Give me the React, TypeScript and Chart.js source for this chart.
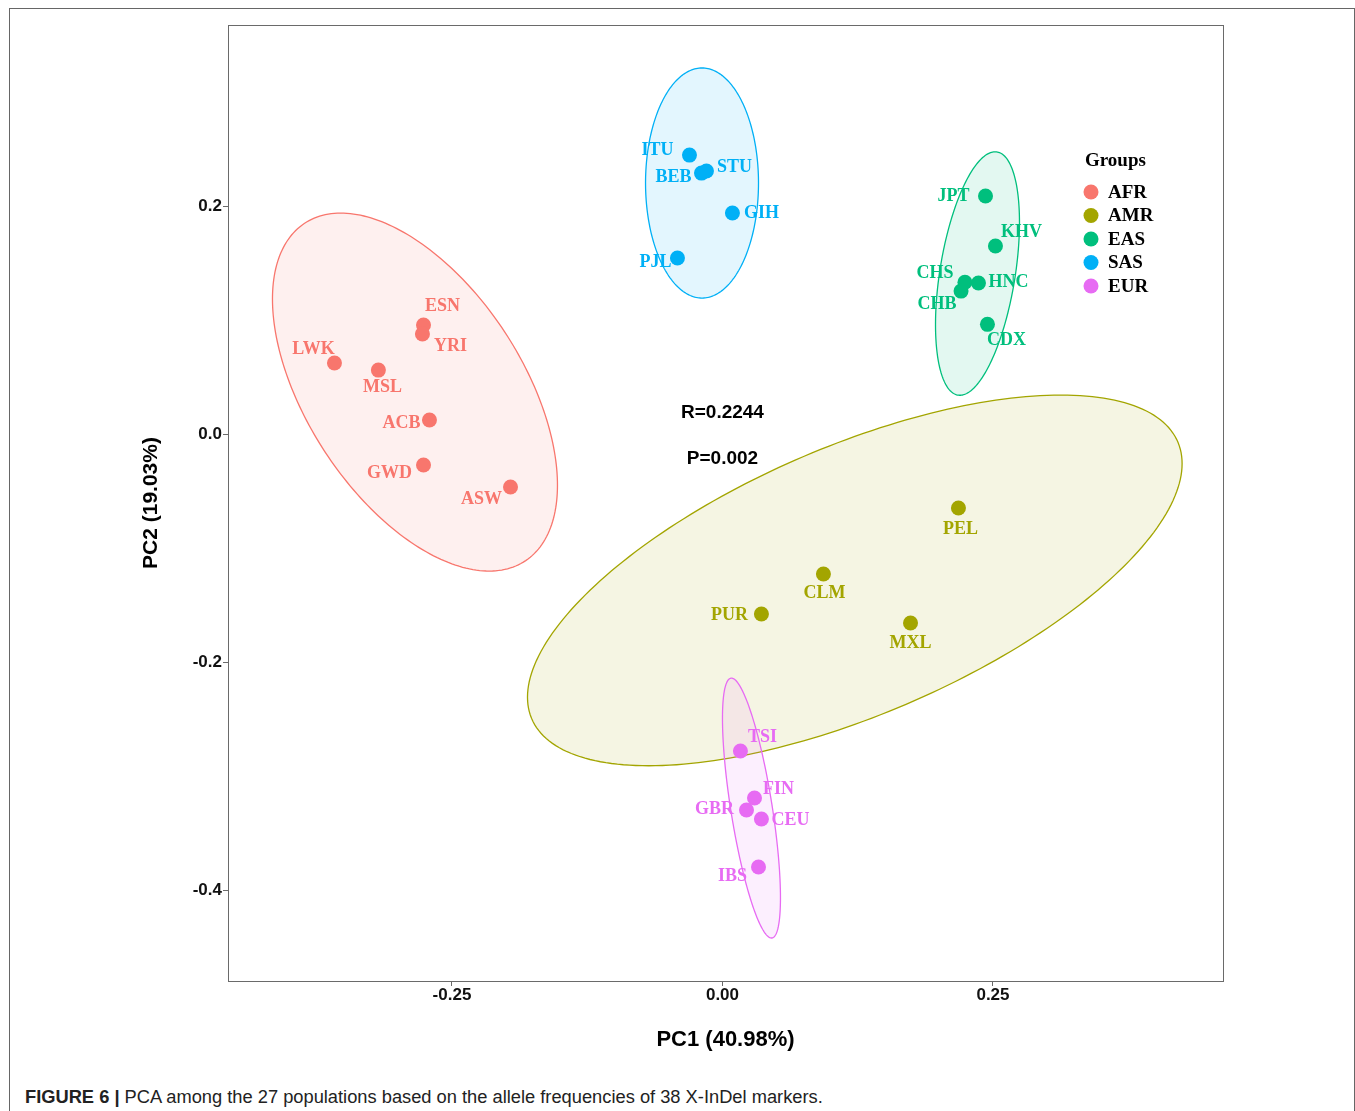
import React, { useEffect, useRef } from 'react';
import { Chart, registerables } from 'chart.js';

Chart.register(...registerables);

// ---- Groups ----
const groups = ['AFR', 'AMR', 'EAS', 'SAS', 'EUR'];
const groupColors = ['#F8766D', '#A3A500', '#00BF7D', '#00B0F6', '#E76BF3'];

// ---- Populations (PC1, PC2) ----
const afrPops = ['LWK', 'MSL', 'ESN', 'YRI', 'ACB', 'GWD', 'ASW'];
const afrPC1 = [-0.3586, -0.318, -0.2763, -0.2773, -0.2708, -0.2763, -0.1959];
const afrPC2 = [0.0623, 0.0561, 0.0956, 0.0877, 0.0123, -0.0272, -0.0465];

const amrPops = ['PEL', 'CLM', 'PUR', 'MXL'];
const amrPC1 = [0.2181, 0.0933, 0.036, 0.1738];
const amrPC2 = [-0.0649, -0.1228, -0.1579, -0.1658];

const easPops = ['JPT', 'KHV', 'CHS', 'HNC', 'CHB', 'CDX'];
const easPC1 = [0.2431, 0.2523, 0.2241, 0.2366, 0.2205, 0.2449];
const easPC2 = [0.2088, 0.1649, 0.1331, 0.1325, 0.1254, 0.0962];

const sasPops = ['ITU', 'BEB', 'STU', 'GIH', 'PJL'];
const sasPC1 = [-0.0305, -0.0194, -0.0148, 0.0092, -0.0416];
const sasPC2 = [0.2447, 0.2289, 0.2307, 0.1939, 0.1544];

const eurPops = ['TSI', 'FIN', 'GBR', 'CEU', 'IBS'];
const eurPC1 = [0.0166, 0.0296, 0.0222, 0.036, 0.0333];
const eurPC2 = [-0.2781, -0.3193, -0.3298, -0.3377, -0.3798];

const groupPops = [afrPops, amrPops, easPops, sasPops, eurPops];
const groupPC1 = [afrPC1, amrPC1, easPC1, sasPC1, eurPC1];
const groupPC2 = [afrPC2, amrPC2, easPC2, sasPC2, eurPC2];

// ---- Confidence ellipses (data units): centre, half-extents, correlation ----
const ellipseCx = [-0.2842, 0.1223, 0.2357, -0.0189, 0.0268];
const ellipseCy = [0.0368, -0.1284, 0.1408, 0.2202, -0.3281];
const ellipseSx = [0.1317, 0.3025, 0.0388, 0.0522, 0.0268];
const ellipseSy = [0.157, 0.1626, 0.1068, 0.1009, 0.114];
const ellipseR = [-0.52, 0.63, 0.42, 0.0, -0.69];

// ---- Axes ----
const xTicks = [-0.25, 0, 0.25];
const yTicks = [-0.4, -0.2, 0, 0.2];
const xMin = -0.457;
const xMax = 0.4626;
const yMin = -0.4798;
const yMax = 0.3588;

// ---- Annotations ----
const annotationTexts = ['R=0.2244', 'P=0.002'];
const annotationX = [0, 0];
const annotationY = [0.0185, -0.0218];

// ---- Label placement (pixel offsets from the point, like ggrepel) ----
const labelOffsets: Record<string, [number, number]> = {
  LWK: [-21, -14], MSL: [4, 17], ESN: [19, -19], YRI: [28, 12], ACB: [-28, 3], GWD: [-34, 8], ASW: [-29, 12],
  PEL: [2, 21], CLM: [1, 19], PUR: [-32, 1], MXL: [0, 20],
  JPT: [-32, 0], KHV: [26, -14], CHS: [-30, -9], HNC: [30, -1], CHB: [-24, 13], CDX: [19, 16],
  ITU: [-32, -5], BEB: [-28, 4], STU: [28, -4], GIH: [29, 0], PJL: [-22, 4],
  TSI: [22, -14], FIN: [24, -9], GBR: [-32, -1], CEU: [29, 1], IBS: [-26, 9],
};

function rgba(hex: string, a: number) {
  const n = parseInt(hex.slice(1), 16);
  return `rgba(${(n >> 16) & 255},${(n >> 8) & 255},${n & 255},${a})`;
}

const SANS = '"Liberation Sans", Arial, sans-serif';
const SERIF = '"Liberation Serif", "Times New Roman", serif';

const ellipsePlugin = {
  id: 'ellipses',
  beforeDatasetsDraw(chart: any) {
    const { ctx, chartArea, scales } = chart;
    const xs = scales.x;
    const ys = scales.y;
    ctx.save();
    ctx.beginPath();
    ctx.rect(chartArea.left, chartArea.top, chartArea.right - chartArea.left, chartArea.bottom - chartArea.top);
    ctx.clip();
    groups.forEach((_, i) => {
      const r = ellipseR[i];
      const q = Math.sqrt(1 - r * r);
      ctx.beginPath();
      const N = 240;
      for (let k = 0; k <= N; k++) {
        const t = (k / N) * Math.PI * 2;
        const dx = ellipseSx[i] * Math.cos(t);
        const dy = ellipseSy[i] * (r * Math.cos(t) + q * Math.sin(t));
        const px = xs.getPixelForValue(ellipseCx[i] + dx);
        const py = ys.getPixelForValue(ellipseCy[i] + dy);
        if (k === 0) ctx.moveTo(px, py);
        else ctx.lineTo(px, py);
      }
      ctx.closePath();
      ctx.fillStyle = rgba(groupColors[i], 0.11);
      ctx.fill();
      ctx.strokeStyle = groupColors[i];
      ctx.lineWidth = 1.3;
      ctx.stroke();
    });
    ctx.restore();
  },
};

const decorPlugin = {
  id: 'decor',
  afterDatasetsDraw(chart: any) {
    const { ctx, chartArea, scales } = chart;
    ctx.save();
    // point labels
    ctx.font = `bold 18px ${SERIF}`;
    ctx.textAlign = 'center';
    ctx.textBaseline = 'middle';
    chart.data.datasets.forEach((ds: any, di: number) => {
      const meta = chart.getDatasetMeta(di);
      ctx.fillStyle = groupColors[di];
      meta.data.forEach((el: any, j: number) => {
        const name = groupPops[di][j];
        const off = labelOffsets[name] || [0, 0];
        ctx.fillText(name, el.x + off[0], el.y + off[1]);
      });
    });
    // annotations
    ctx.fillStyle = '#000';
    ctx.font = `bold 19px ${SANS}`;
    annotationTexts.forEach((t, i) => {
      ctx.fillText(t, scales.x.getPixelForValue(annotationX[i]), scales.y.getPixelForValue(annotationY[i]));
    });
    // panel border
    ctx.strokeStyle = '#6a6a6a';
    ctx.lineWidth = 1;
    ctx.strokeRect(
      Math.round(chartArea.left) + 0.5,
      Math.round(chartArea.top) + 0.5,
      Math.round(chartArea.right - chartArea.left),
      Math.round(chartArea.bottom - chartArea.top)
    );
    // legend (inside panel, top right)
    const lx = chartArea.right - 138;
    const ly = chartArea.top + 136;
    ctx.fillStyle = '#000';
    ctx.textAlign = 'left';
    ctx.font = `bold 19px ${SERIF}`;
    ctx.fillText('Groups', lx, ly);
    groups.forEach((g, i) => {
      const cy = ly + 31 + i * 23.5;
      ctx.beginPath();
      ctx.arc(lx + 6, cy, 7.5, 0, Math.PI * 2);
      ctx.fillStyle = groupColors[i];
      ctx.fill();
      ctx.fillStyle = '#000';
      ctx.fillText(g, lx + 23, cy + 1);
    });
    ctx.restore();
  },
};

export default function App() {
  const canvasRef = useRef<HTMLCanvasElement | null>(null);

  useEffect(() => {
    document.body.style.margin = '0';
    document.documentElement.style.overflow = 'hidden';
    if (!canvasRef.current) return;
    const datasets = groups.map((g, i) => ({
      label: g,
      data: groupPC1[i].map((x, j) => ({ x, y: groupPC2[i][j] })),
      backgroundColor: groupColors[i],
      borderColor: groupColors[i],
      borderWidth: 0,
      pointRadius: 7.5,
      pointHoverRadius: 7.5,
    }));
    const chart = new Chart(canvasRef.current, {
      type: 'scatter',
      data: { datasets },
      plugins: [ellipsePlugin, decorPlugin],
      options: {
        animation: false,
        responsive: false,
        maintainAspectRatio: false,
        layout: { padding: { left: 129, right: 131, top: 16, bottom: 16 } },
        plugins: {
          legend: { display: false },
          tooltip: { enabled: false },
        },
        scales: {
          x: {
            type: 'linear',
            min: xMin,
            max: xMax,
            afterBuildTicks: (s: any) => {
              s.ticks = xTicks.map((v) => ({ value: v }));
            },
            afterFit: (s: any) => {
              s.height = 72;
            },
            ticks: {
              callback: (v: any) => Number(v).toFixed(2),
              font: { family: SANS, size: 17, weight: 'bold' },
              color: '#111',
              padding: -1,
              maxRotation: 0,
            },
            grid: { drawOnChartArea: false, drawTicks: true, tickLength: 5, tickColor: '#6a6a6a', tickWidth: 1 },
            border: { display: false },
            title: {
              display: true,
              text: 'PC1 (40.98%)',
              font: { family: SANS, size: 22, weight: 'bold' },
              color: '#000',
              padding: 0,
            },
          },
          y: {
            type: 'linear',
            min: yMin,
            max: yMax,
            afterBuildTicks: (s: any) => {
              s.ticks = yTicks.map((v) => ({ value: v }));
            },
            afterFit: (s: any) => {
              s.width = 89;
            },
            ticks: {
              callback: (v: any) => Number(v).toFixed(1),
              font: { family: SANS, size: 17, weight: 'bold' },
              color: '#111',
              padding: 1,
            },
            grid: { drawOnChartArea: false, drawTicks: true, tickLength: 5, tickColor: '#6a6a6a', tickWidth: 1 },
            border: { display: false },
            title: {
              display: true,
              text: 'PC2 (19.03%)',
              font: { family: SANS, size: 21, weight: 'bold' },
              color: '#000',
              padding: 0,
            },
          },
        },
      } as any,
    });
    return () => chart.destroy();
  }, []);

  return (
    <div style={{ padding: '8px 0 0 9px', width: 1346, background: '#fff' }}>
      <div
        style={{
          position: 'relative',
          width: 1344,
          height: 1102,
          borderTop: '1px solid #666',
          borderLeft: '1px solid #666',
          borderRight: '1px solid #666',
          background: '#fff',
        }}
      >
        <canvas
          ref={canvasRef}
          width={1344}
          height={1060}
          style={{ position: 'absolute', left: 0, top: 0, width: 1344, height: 1060 }}
        />
        <div
          style={{
            position: 'absolute',
            left: 15,
            top: 1078,
            fontFamily: SANS,
            fontSize: 18.3,
            lineHeight: '20px',
            color: '#222',
            whiteSpace: 'nowrap',
          }}
        >
          <b>FIGURE 6 |</b> PCA among the 27 populations based on the allele frequencies of 38 X-InDel markers.
        </div>
      </div>
    </div>
  );
}
